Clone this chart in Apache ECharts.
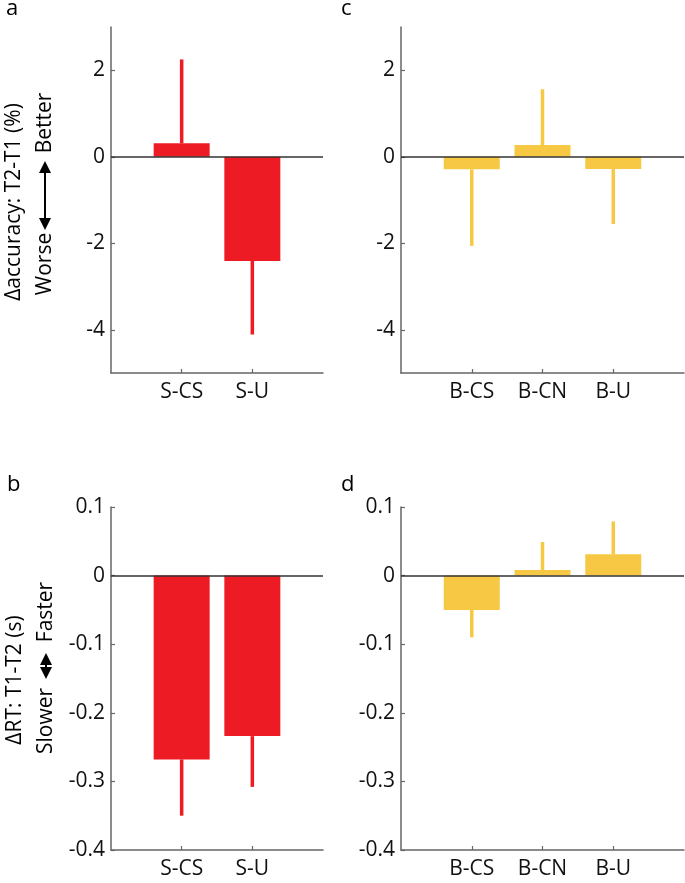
<!DOCTYPE html>
<html><head><meta charset="utf-8">
<script src="https://cdn.jsdelivr.net/npm/echarts@6/dist/echarts.min.js"></script>
<style>html,body{margin:0;padding:0;background:#fff}#c{width:685px;height:883px}</style>
</head><body><div id="c"></div>
<script>
// ---- data ----
const catsS = ['S-CS', 'S-U'];
const catsB = ['B-CS', 'B-CN', 'B-U'];
const accS = [0.31, -2.41];
const accSErr = [1.94, 1.70];
const accB = [-0.29, 0.27, -0.285];
const accBErr = [1.77, 1.29, 1.27];
const rtS = [-0.268, -0.234];
const rtSErr = [0.082, 0.074];
const rtB = [-0.050, 0.008, 0.031];
const rtBErr = [0.040, 0.041, 0.048];
const accTicks = [-4, -2, 0, 2];
const rtTicks = [-0.4, -0.3, -0.2, -0.1, 0, 0.1];

const RED = '#ed1c24', YEL = '#f7c843';
const FONT = 'Open Sans';
const FS = 21;

const chart = echarts.init(document.getElementById('c'), null, {renderer: 'canvas'});

const panels = [
  {grid: {left: 111, top: 27, width: 212, height: 346}, cats: catsS, vals: accS, errs: accSErr, color: RED, ymin: -5, ymax: 3, ticks: accTicks},
  {grid: {left: 401, top: 27, width: 283, height: 346}, cats: catsB, vals: accB, errs: accBErr, color: YEL, ymin: -5, ymax: 3, ticks: accTicks},
  {grid: {left: 111, top: 507, width: 212, height: 343}, cats: catsS, vals: rtS, errs: rtSErr, color: RED, ymin: -0.4, ymax: 0.1, ticks: rtTicks},
  {grid: {left: 401, top: 507, width: 283, height: 343}, cats: catsB, vals: rtB, errs: rtBErr, color: YEL, ymin: -0.4, ymax: 0.1, ticks: rtTicks}
];

const grid = [], xAxis = [], yAxis = [], series = [];
panels.forEach((p, i) => {
  grid.push(Object.assign({containLabel: false}, p.grid));
  const xpos = p.cats.map((c, j) => j + 1);
  xAxis.push({
    type: 'value', gridIndex: i, min: 0, max: p.cats.length + 1,
    splitLine: {show: false},
    axisLine: {show: true, onZero: false, lineStyle: {color: '#666', width: 1.5}},
    axisTick: {show: true, inside: true, length: 4, customValues: xpos, lineStyle: {color: '#666', width: 1.2}},
    axisLabel: {show: true, customValues: xpos, formatter: v => p.cats[Math.round(v) - 1] || '',
      fontFamily: FONT, fontSize: FS, color: '#111', margin: 9}
  });
  yAxis.push({
    type: 'value', gridIndex: i, min: p.ymin, max: p.ymax,
    splitLine: {show: false},
    axisLine: {show: true, onZero: false, lineStyle: {color: '#666', width: 1.5}},
    axisTick: {show: true, inside: true, length: 4, customValues: p.ticks, lineStyle: {color: '#666', width: 1.2}},
    axisLabel: {customValues: p.ticks, formatter: v => String(Math.round(v * 100) / 100),
      fontFamily: FONT, fontSize: FS, color: '#111', margin: 6}
  });
  series.push({
    type: 'bar', xAxisIndex: i, yAxisIndex: i, barWidth: 56,
    data: p.vals.map((v, j) => [j + 1, v]),
    itemStyle: {color: p.color}, z: 2,
    markLine: {silent: true, symbol: 'none', label: {show: false},
      lineStyle: {color: '#333', width: 1.5, type: 'solid'},
      data: [{yAxis: 0}], z: 5}
  });
  series.push({
    type: 'custom', xAxisIndex: i, yAxisIndex: i, z: 3,
    data: p.vals.map((v, j) => [j + 1, v, p.errs[j]]),
    renderItem: (params, api) => {
      const x = api.value(0), m = api.value(1), e = api.value(2);
      const end = m + (m >= 0 ? 1 : -1) * e;
      const p0 = api.coord([x, m]), p1 = api.coord([x, end]);
      return {type: 'line', shape: {x1: p0[0], y1: p0[1], x2: p1[0], y2: p1[1]},
        style: {stroke: p.color, lineWidth: 3.5}};
    }
  });
});

function vtext(x, y, text) {
  return {type: 'text', x: x, y: y, rotation: Math.PI / 2,
    style: {text: text, fontFamily: FONT, fontSize: FS, fill: '#000', align: 'center', verticalAlign: 'middle'}};
}
function varrow(x, y1, y2) {
  const hw = 6, hl = 12;
  return [
    {type: 'line', shape: {x1: x, y1: y1 + hl - 1, x2: x, y2: y2 - hl + 1}, style: {stroke: '#000', lineWidth: 2}},
    {type: 'polygon', shape: {points: [[x, y1], [x - hw, y1 + hl], [x + hw, y1 + hl]]}, style: {fill: '#000'}},
    {type: 'polygon', shape: {points: [[x, y2], [x - hw, y2 - hl], [x + hw, y2 - hl]]}, style: {fill: '#000'}}
  ];
}
function letter(x, y, t) {
  return {type: 'text', x: x, y: y, style: {text: t, fontFamily: FONT, fontSize: 22, fill: '#000', align: 'left', verticalAlign: 'top'}};
}

const graphic = [
  letter(6, -2, 'a'), letter(341, -2, 'c'), letter(7, 474, 'b'), letter(341, 474, 'd'),
  vtext(14, 202, 'Δaccuracy: T2-T1 (%)'),
  vtext(45, 123, 'Better'),
  ...varrow(45, 161, 230),
  vtext(45, 264, 'Worse'),
  vtext(15, 680, 'ΔRT: T1-T2 (s)'),
  vtext(46, 612, 'Faster'),
  ...varrow(46, 653, 679),
  vtext(46, 721, 'Slower')
];

chart.setOption({
  animation: false,
  backgroundColor: '#fff',
  grid, xAxis, yAxis, series, graphic
});
</script></body></html>
